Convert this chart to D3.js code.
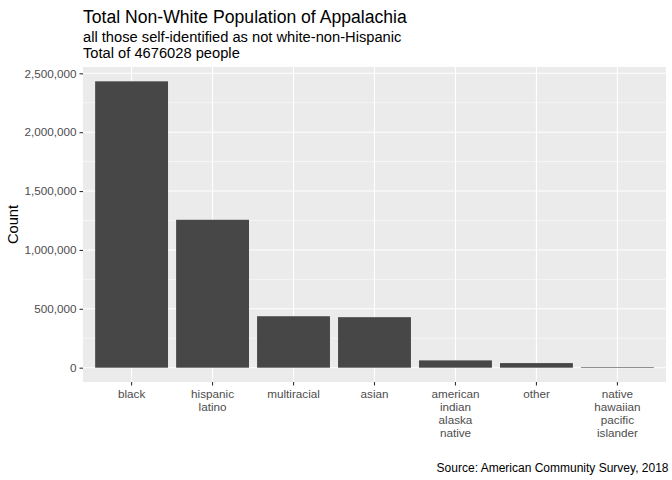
<!DOCTYPE html>
<html>
<head>
<meta charset="utf-8">
<script src="https://cdn.jsdelivr.net/npm/d3@7"></script>
<style>
  body { margin: 0; background: #fff; }
  text { font-family: "Liberation Sans", Arial, Helvetica, sans-serif; }
</style>
</head>
<body>
<svg id="canvas" width="672" height="480"></svg>
<script>
// data
const groups = ["black", "hispanic latino", "multiracial", "asian",
                "american indian alaska native", "other", "native hawaiian pacific islander"];
const counts = [2432000, 1256000, 437000, 429000, 62000, 39000, 5000];
const yTicks = [0, 500000, 1000000, 1500000, 2000000, 2500000];
const yMinor = [250000, 750000, 1250000, 1750000, 2250000];

const w = 672, h = 480;
const pLeft = 83, pRight = 666, pTop = 67, pBottom = 382;

const svg = d3.select("#canvas");

// discrete x with ggplot's 0.6 expansion on each side
const step = (pRight - pLeft) / (groups.length - 1 + 1.2);
const x = d3.scaleBand()
        .domain(groups)
        .range([pLeft + 0.1 * step, pRight - 0.1 * step])
        .paddingInner(0.1)
        .paddingOuter(0.05);

// continuous y with 5% expansion
const yMax = d3.max(counts);
const y = d3.scaleLinear()
        .domain([-0.05 * yMax, 1.05 * yMax])
        .range([pBottom, pTop]);

// panel
svg.append("rect")
        .attr("x", pLeft).attr("y", pTop)
        .attr("width", pRight - pLeft).attr("height", pBottom - pTop)
        .attr("fill", "#EBEBEB");

// grid
svg.selectAll(".minor").data(yMinor).enter().append("line")
        .attr("x1", pLeft).attr("x2", pRight)
        .attr("y1", d => y(d)).attr("y2", d => y(d))
        .attr("stroke", "#fff").attr("stroke-width", 0.55);
svg.selectAll(".major").data(yTicks).enter().append("line")
        .attr("x1", pLeft).attr("x2", pRight)
        .attr("y1", d => y(d)).attr("y2", d => y(d))
        .attr("stroke", "#fff").attr("stroke-width", 1.1);
svg.selectAll(".vgrid").data(groups).enter().append("line")
        .attr("x1", d => x(d) + x.bandwidth() / 2).attr("x2", d => x(d) + x.bandwidth() / 2)
        .attr("y1", pTop).attr("y2", pBottom)
        .attr("stroke", "#fff").attr("stroke-width", 1.1);

// bars
svg.selectAll(".bar").data(groups).enter().append("rect")
        .attr("x", d => x(d))
        .attr("width", x.bandwidth())
        .attr("y", (d, i) => y(counts[i]))
        .attr("height", (d, i) => y(0) - y(counts[i]))
        .attr("fill", "#474747");

// y axis
const yAxis = svg.append("g")
        .attr("transform", "translate(" + pLeft + ",0)")
        .call(d3.axisLeft(y).tickValues(yTicks).tickSize(3.5).tickPadding(3)
                .tickFormat(d3.format(",")));
yAxis.select(".domain").remove();
yAxis.selectAll("line").attr("stroke", "#333333").attr("stroke-width", 1.1);
yAxis.selectAll("text").attr("fill", "#4D4D4D").style("font-size", "11.7px");

// x axis
const xAxis = svg.append("g")
        .attr("transform", "translate(0," + pBottom + ")")
        .call(d3.axisBottom(x).tickSize(3.5).tickFormat(""));
xAxis.select(".domain").remove();
xAxis.selectAll("line").attr("stroke", "#333333").attr("stroke-width", 1.1);

xAxis.selectAll(".tick").each(function (d) {
        const t = d3.select(this).append("text")
                .attr("fill", "#4D4D4D")
                .attr("text-anchor", "middle")
                .style("font-size", "11.7px");
        d.split(" ").forEach((word, i) => {
                t.append("tspan").attr("x", 0).attr("y", 15.5 + i * 13).text(word);
        });
});

// axis title
svg.append("text")
        .attr("transform", "translate(18," + ((pTop + pBottom) / 2) + ") rotate(-90)")
        .attr("text-anchor", "middle")
        .style("font-size", "14.7px")
        .text("Count");

// titles
svg.append("text").attr("x", pLeft).attr("y", 22.5)
        .style("font-size", "17.6px").text("Total Non-White Population of Appalachia");
svg.append("text").attr("x", pLeft).attr("y", 42)
        .style("font-size", "14.7px").text("all those self-identified as not white-non-Hispanic");
svg.append("text").attr("x", pLeft).attr("y", 58)
        .style("font-size", "14.7px").text("Total of 4676028 people");

// caption
svg.append("text").attr("x", 668.5).attr("y", 472)
        .attr("text-anchor", "end")
        .style("font-size", "12px")
        .text("Source: American Community Survey, 2018");
</script>
</body>
</html>
